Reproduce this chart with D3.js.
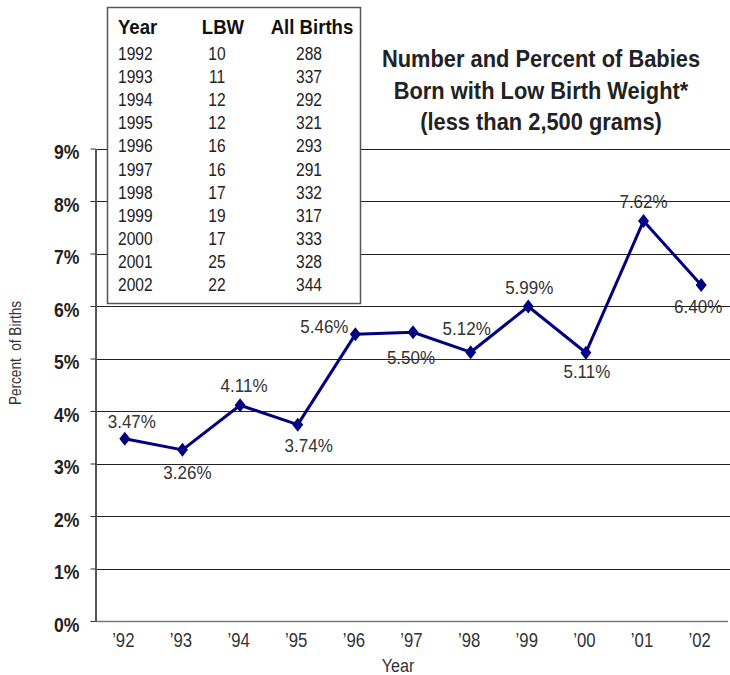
<!DOCTYPE html>
<html>
<head>
<meta charset="utf-8">
<script src="https://cdn.jsdelivr.net/npm/d3@7"></script>
<style>
  html, body { margin: 0; padding: 0; background: #fff; }
  svg { display: block; }
  text { font-family: "Liberation Sans", Arial, sans-serif; }
</style>
</head>
<body>
<svg id="chart" width="730" height="675"></svg>
<script>
// ---- data ----
const years = ["1992","1993","1994","1995","1996","1997","1998","1999","2000","2001","2002"];
const yearTicks = ["’92","’93","’94","’95","’96","’97","’98","’99","’00","’01","’02"];
const lbw = [10, 11, 12, 12, 16, 16, 17, 19, 17, 25, 22];
const allBirths = [288, 337, 292, 321, 293, 291, 332, 317, 333, 328, 344];
const percent = [3.47, 3.26, 4.11, 3.74, 5.46, 5.50, 5.12, 5.99, 5.11, 7.62, 6.40];
const yTicks = [0, 1, 2, 3, 4, 5, 6, 7, 8, 9];
const titleLines = ["Number and Percent of Babies", "Born with Low Birth Weight*", "(less than 2,500 grams)"];
const tableHeader = ["Year", "LBW", "All Births"];

(function () {
const svg = d3.select("#chart");
const pLeft = 96, pRight = 730, pTop = 148.5, pBottom = 621;

// condense a text horizontally around its anchor point
function narrow(sel, sx) {
  sel.each(function () {
    const t = d3.select(this);
    const tx = +t.attr("x") || 0, ty = +t.attr("y") || 0;
    t.attr("x", 0).attr("y", 0).attr("transform", `translate(${tx},${ty}) scale(${sx},1)`);
  });
}

const x = d3.scaleBand().domain(years).range([pLeft, pRight]);
const y = d3.scaleLinear().domain([0, 9]).range([pBottom, pTop]);
const cx = d => x(d) + x.bandwidth() / 2;

// gridlines
svg.append("g").selectAll("line")
  .data(yTicks.filter(t => t > 0))
  .join("line")
  .attr("x1", pLeft).attr("x2", pRight)
  .attr("y1", d => Math.round(y(d)) + 0.5).attr("y2", d => Math.round(y(d)) + 0.5)
  .attr("stroke", "#222").attr("stroke-width", 1);

// x axis baseline
svg.append("line")
  .attr("x1", pLeft).attr("x2", pRight - 2)
  .attr("y1", Math.round(y(0)) + 0.5).attr("y2", Math.round(y(0)) + 0.5)
  .attr("stroke", "#777").attr("stroke-width", 1.5);

// y axis
const yAxis = d3.axisLeft(y).tickValues(yTicks).tickSize(5).tickSizeOuter(0).tickFormat(d => d + "%");
const gy = svg.append("g").attr("transform", `translate(${pLeft - 0.5},0)`).call(yAxis);
gy.select(".domain").attr("stroke", "#555").attr("stroke-width", 2);
gy.selectAll(".tick line").attr("stroke", "#333");
gy.selectAll(".tick text")
  .attr("x", -16).attr("y", 0).attr("dy", "0.5em")
  .attr("font-size", 20).attr("font-weight", "bold").attr("fill", "#222")
  .style("font-family", '"Liberation Sans", Arial, sans-serif')
  .call(narrow, 0.88);

// x tick labels
const xAxis = d3.axisBottom(x).tickSize(0).tickFormat((d, i) => yearTicks[i]);
const gx = svg.append("g").attr("transform", `translate(0,${pBottom})`).call(xAxis);
gx.select(".domain").remove();
gx.selectAll(".tick text")
  .attr("x", -1.5).attr("y", 26).attr("dy", 0)
  .attr("font-size", 19.5).attr("fill", "#333")
  .style("font-family", '"Liberation Sans", Arial, sans-serif')
  .call(narrow, 0.86);

// axis titles
svg.append("text").attr("x", 398).attr("y", 672).attr("text-anchor", "middle")
  .attr("font-size", 19).attr("fill", "#333").text("Year").call(narrow, 0.85);
svg.append("text").attr("transform", "translate(21,353) rotate(-90) scale(0.8,1)").attr("text-anchor", "middle")
  .attr("font-size", 17).attr("fill", "#333").style("white-space", "pre").text("Percent  of Births");

// line
const line = d3.line().x((d, i) => cx(years[i])).y(d => y(d));
svg.append("path").datum(percent)
  .attr("d", line).attr("fill", "none").attr("stroke", "#000080").attr("stroke-width", 3)
  .attr("stroke-linejoin", "round");

// diamond markers
svg.append("g").selectAll("path")
  .data(percent)
  .join("path")
  .attr("transform", (d, i) => `translate(${cx(years[i])},${y(d)})`)
  .attr("d", "M0,-7 L5.5,0 L0,7 L-5.5,0 Z")
  .attr("fill", "#000080");

// data labels
const customOff = [[7,-11],[5,29],[4,-13],[11,27],[-31,-1],[-2,32],[-4,-17],[1,-13],[1,25],[0,-13],[-3,28]];
svg.append("g").selectAll("text")
  .data(percent)
  .join("text")
  .attr("x", (d, i) => cx(years[i]) + customOff[i][0])
  .attr("y", (d, i) => y(d) + customOff[i][1])
  .attr("text-anchor", "middle")
  .attr("font-size", 18.5).attr("fill", "#333")
  .text(d => d.toFixed(2) + "%")
  .call(narrow, 0.92);

// table box
const tbl = svg.append("g");
tbl.append("rect").attr("x", 107.5).attr("y", 7.5).attr("width", 253).attr("height", 296)
  .attr("fill", "#fff").attr("stroke", "#555").attr("stroke-width", 1.5);
const colX = [118, 223, 312];
const colAnchor = ["start", "middle", "middle"];
tbl.selectAll("text.h").data(tableHeader).join("text").attr("class", "h")
  .attr("x", (d, i) => colX[i]).attr("y", 34)
  .attr("text-anchor", (d, i) => colAnchor[i])
  .attr("font-size", 20).attr("font-weight", "bold").attr("fill", "#111")
  .text(d => d)
  .call(narrow, 0.93);
const rowY = i => 60 + i * 23.1;
const valX = [118, 217, 309];
years.forEach((yr, i) => {
  const vals = [yr, lbw[i], allBirths[i]];
  vals.forEach((v, j) => {
    tbl.append("text").attr("x", valX[j]).attr("y", rowY(i))
      .attr("text-anchor", colAnchor[j])
      .attr("font-size", 19).attr("fill", "#222")
      .text(v)
      .call(narrow, 0.82);
  });
});

// title
svg.append("g").selectAll("text").data(titleLines).join("text")
  .attr("x", 541).attr("y", (d, i) => 67 + i * 31.5)
  .attr("text-anchor", "middle")
  .attr("font-size", 23.5).attr("font-weight", "bold").attr("fill", "#222")
  .text(d => d)
  .call(narrow, 0.93);
})();
</script>
</body>
</html>
